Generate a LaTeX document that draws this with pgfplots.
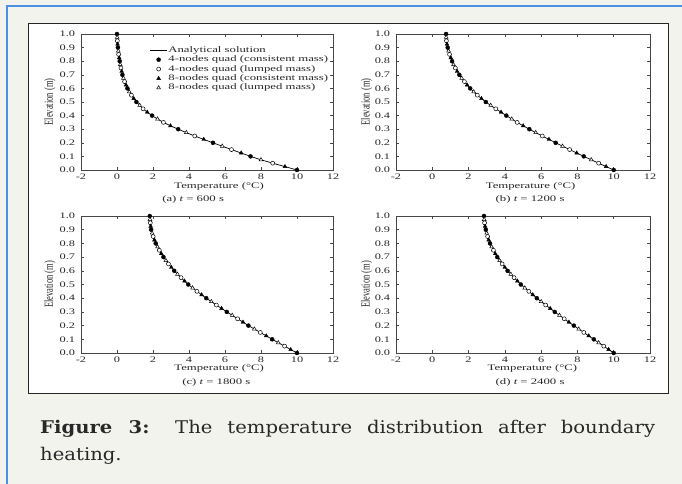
\documentclass[border=0pt]{standalone}
\usepackage{fontspec}
\usepackage{pgfplots}
\usepackage{pgfplotstable}
\pgfplotsset{compat=1.18}
\setmainfont{Liberation Serif}
\newfontfamily\capfont{DejaVu Serif}
\newcommand\cf{\rmfamily\fontsize{8.5}{9.4}\selectfont}
\definecolor{bgcol}{RGB}{243,243,238}
\definecolor{bluel}{RGB}{74,144,226}
\definecolor{axgray}{RGB}{70,70,70}
\definecolor{txt}{RGB}{40,40,40}

\pgfplotstableread{
z     Ta    Tb    Tc    Td
0.000 10.00 10.00 10.00 10.00
0.025 9.33  9.58  9.65  9.72
0.050 8.65  9.17  9.31  9.45
0.075 8.00  8.76  8.96  9.17
0.100 7.42  8.35  8.62  8.90
0.125 6.90  7.96  8.29  8.62
0.150 6.36  7.57  7.96  8.35
0.175 5.85  7.18  7.63  8.07
0.200 5.33  6.80  7.30  7.80
0.225 4.82  6.43  7.00  7.53
0.250 4.32  6.06  6.70  7.27
0.275 3.85  5.70  6.40  7.01
0.300 3.40  5.35  6.10  6.75
0.325 2.97  5.01  5.81  6.50
0.350 2.58  4.68  5.52  6.25
0.375 2.25  4.38  5.24  6.00
0.400 1.95  4.08  4.96  5.76
0.425 1.68  3.79  4.70  5.54
0.450 1.45  3.50  4.44  5.32
0.475 1.26  3.22  4.20  5.10
0.500 1.08  2.95  3.96  4.88
0.525 0.93  2.71  3.75  4.69
0.550 0.80  2.48  3.56  4.51
0.575 0.68  2.28  3.36  4.33
0.600 0.58  2.09  3.18  4.15
0.625 0.50  1.92  3.02  4.00
0.650 0.42  1.77  2.86  3.85
0.675 0.36  1.62  2.72  3.71
0.700 0.30  1.49  2.58  3.58
0.725 0.26  1.37  2.46  3.47
0.750 0.22  1.27  2.35  3.37
0.775 0.18  1.17  2.25  3.27
0.800 0.15  1.09  2.15  3.18
0.825 0.12  1.02  2.08  3.11
0.850 0.09  0.95  2.01  3.05
0.875 0.07  0.90  1.95  3.00
0.900 0.05  0.85  1.90  2.95
0.925 0.03  0.81  1.87  2.91
0.950 0.02  0.78  1.85  2.88
0.975 0.01  0.765 1.83  2.86
1.000 0.00  0.76  1.82  2.85
}\tbl

\pgfplotsset{
  panel/.style={
    scale only axis, anchor=south west,
    xmin=-2, xmax=12, ymin=0, ymax=1,
    xtick={-2,0,2,4,6,8,10,12},
    xticklabels={-2,0,2,4,6,8,10,12},
    ytick={0,0.1,0.2,0.3,0.4,0.5,0.6,0.7,0.8,0.9,1.0},
    yticklabels={0.0,0.1,0.2,0.3,0.4,0.5,0.6,0.7,0.8,0.9,1.0},
    tick align=inside, major tick length=3pt,
    every tick/.style={axgray, line width=0.5pt},
    axis line style={axgray, line width=0.7pt},
    ticklabel style={font=\cf, text=txt, xscale=1.45},
    yticklabel style={xshift=-0.5pt},
    clip=false,
    label style={font=\cf, text=txt},
    xlabel={Temperature (°C)},
    ylabel={Elevation (m)},
    ylabel style={anchor=center, yscale=1.45},
    xlabel style={anchor=center, xscale=1.5},
  },
  ana/.style={black, line width=0.7pt, no marks},
  fc/.style={only marks, mark=*, mark size=2pt, black, restrict expr to domain={mod(\coordindex,4)}{0:0}},
  oc/.style={only marks, mark=*, mark size=2pt, mark options={fill=white, draw=black, line width=0.5pt}, restrict expr to domain={mod(\coordindex,4)}{2:2}},
  ft/.style={only marks, mark=triangle*, mark size=2.2pt, black, restrict expr to domain={mod(\coordindex,4)}{1:1}},
  ot/.style={only marks, mark=triangle*, mark size=2.2pt, mark options={fill=white, draw=black, line width=0.5pt}, restrict expr to domain={mod(\coordindex,4)}{3:3}},
}
\tikzset{subcap/.style={font=\cf, text=txt, anchor=center, xscale=1.5}}

\begin{document}
\begin{tikzpicture}
\path[use as bounding box] (0pt,0pt) rectangle (682pt,484pt);
\fill[bgcol] (0pt,0pt) rectangle (682pt,484pt);
\draw[bluel, line width=1.2pt] (7pt,0pt) -- (7pt,478pt) -- (682pt,478pt);
\draw[fill=white, draw=black!85, line width=1pt] (28pt,90pt) rectangle (668pt,460pt);

% (a)
\begin{axis}[panel, at={(81pt,314pt)}, width=252pt, height=136pt,
  xlabel style={at={(axis description cs:0.548,-0.118)}},
  ylabel style={at={(axis description cs:-0.123,0.5)}},
  legend style={at={(axis description cs:0.272,0.915)}, anchor=north west, draw=none, fill=none,
    font=\cf, text=txt, inner sep=0pt, row sep=0.4pt,
    nodes={inner sep=0.6pt, text height=6pt, text depth=1.8pt, xscale=1.5}},
  legend cell align=left]
\addplot[ana] table[x=Ta,y=z]{\tbl};
\addplot[fc] table[x=Ta,y=z]{\tbl};
\addplot[oc] table[x=Ta,y=z]{\tbl};
\addplot[ft] table[x=Ta,y=z]{\tbl};
\addplot[ot] table[x=Ta,y=z]{\tbl};
\legend{Analytical solution, 4-nodes quad (consistent mass), 4-nodes quad (lumped mass), 8-nodes quad (consistent mass), 8-nodes quad (lumped mass)}
\node[subcap] at (axis description cs:0.445,-0.215) {(a) {\itshape t} = 600 s};
\end{axis}

% (b)
\begin{axis}[panel, at={(396pt,314pt)}, width=254pt, height=136pt,
  xlabel style={at={(axis description cs:0.53,-0.118)}},
  ylabel style={at={(axis description cs:-0.116,0.5)}}]
\addplot[ana] table[x=Tb,y=z]{\tbl};
\addplot[fc] table[x=Tb,y=z]{\tbl};
\addplot[oc] table[x=Tb,y=z]{\tbl};
\addplot[ft] table[x=Tb,y=z]{\tbl};
\addplot[ot] table[x=Tb,y=z]{\tbl};
\node[subcap] at (axis description cs:0.528,-0.215) {(b) {\itshape t} = 1200 s};
\end{axis}

% (c)
\begin{axis}[panel, at={(81pt,131pt)}, width=252pt, height=137pt,
  xlabel style={at={(axis description cs:0.548,-0.112)}},
  ylabel style={at={(axis description cs:-0.123,0.5)}}]
\addplot[ana] table[x=Tc,y=z]{\tbl};
\addplot[fc] table[x=Tc,y=z]{\tbl};
\addplot[oc] table[x=Tc,y=z]{\tbl};
\addplot[ft] table[x=Tc,y=z]{\tbl};
\addplot[ot] table[x=Tc,y=z]{\tbl};
\node[subcap] at (axis description cs:0.537,-0.218) {(c) {\itshape t} = 1800 s};
\end{axis}

% (d)
\begin{axis}[panel, at={(396pt,131pt)}, width=254pt, height=137pt,
  xlabel style={at={(axis description cs:0.537,-0.112)}},
  ylabel style={at={(axis description cs:-0.116,0.5)}}]
\addplot[ana] table[x=Td,y=z]{\tbl};
\addplot[fc] table[x=Td,y=z]{\tbl};
\addplot[oc] table[x=Td,y=z]{\tbl};
\addplot[ft] table[x=Td,y=z]{\tbl};
\addplot[ot] table[x=Td,y=z]{\tbl};
\node[subcap] at (axis description cs:0.528,-0.218) {(d) {\itshape t} = 2400 s};
\end{axis}

\node[anchor=base west, inner sep=0pt, text=txt, xscale=1.12, font=\capfont\fontsize{17.5}{26}\selectfont] at (40pt,50pt)
  {\makebox[549pt][s]{\textbf{Figure 3:} The temperature distribution after boundary}};
\node[anchor=base west, inner sep=0pt, text=txt, xscale=1.12, font=\capfont\fontsize{17.5}{26}\selectfont] at (40pt,23pt)
  {heating.};
\end{tikzpicture}
\end{document}
